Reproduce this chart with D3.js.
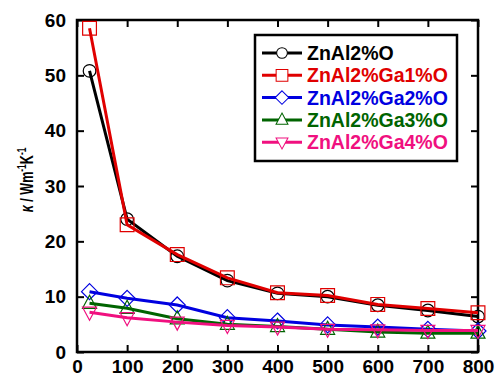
<!DOCTYPE html>
<html>
<head>
<meta charset="utf-8">
<script src="https://cdn.jsdelivr.net/npm/d3@7"></script>
<style>
  body { margin: 0; background: #fff; }
  text { font-family: "Liberation Sans", Arial, sans-serif; font-weight: bold; }
</style>
</head>
<body>
<div id="chart"></div>
<script>
const temps = [25, 100, 200, 300, 400, 500, 600, 700, 800];
const ga0 = [50.8, 24.0, 17.3, 12.9, 10.6, 10.0, 8.45, 7.5, 6.4];
const ga1 = [58.5, 23.0, 17.6, 13.4, 10.7, 10.2, 8.6, 7.85, 7.1];
const ga2 = [10.9, 9.7, 8.5, 6.2, 5.6, 4.9, 4.5, 4.1, 3.8];
const ga3 = [8.8, 7.9, 6.0, 5.0, 4.6, 4.1, 3.6, 3.4, 3.4];
const ga4 = [7.2, 6.2, 5.4, 4.8, 4.5, 4.1, 4.0, 3.9, 3.9];
const seriesNames = ["ZnAl2%O", "ZnAl2%Ga1%O", "ZnAl2%Ga2%O", "ZnAl2%Ga3%O", "ZnAl2%Ga4%O"];
const xTicks = [0, 100, 200, 300, 400, 500, 600, 700, 800];
const yTicks = [0, 10, 20, 30, 40, 50, 60];

const series = [
  { name: seriesNames[0], values: ga0, color: "#000000", symbol: "circle" },
  { name: seriesNames[1], values: ga1, color: "#e00000", symbol: "square" },
  { name: seriesNames[2], values: ga2, color: "#0000e0", symbol: "diamond" },
  { name: seriesNames[3], values: ga3, color: "#006400", symbol: "up" },
  { name: seriesNames[4], values: ga4, color: "#f0107f", symbol: "down" }
];

const W = 496, H = 376;
const margin = {top: 20, right: 18, bottom: 24, left: 77};
const width = W - margin.left - margin.right;
const height = H - margin.top - margin.bottom;

const svg = d3.select("#chart").append("svg")
  .attr("width", W)
  .attr("height", H);

const g = svg.append("g")
  .attr("transform", "translate(" + margin.left + "," + margin.top + ")");

const x = d3.scaleLinear().domain([0, 800]).range([0, width]);
const y = d3.scaleLinear().domain([0, 60]).range([height, 0]);

// axes with inward ticks, mirrored on top/right
const tick = 7;
g.append("g")
  .attr("transform", "translate(0," + height + ")")
  .call(d3.axisBottom(x).tickValues(xTicks).tickSize(-tick).tickPadding(8))
  .call(a => a.select(".domain").remove())
  .call(a => a.selectAll("text").attr("font-size", 19).attr("fill", "#000"));
g.append("g")
  .call(d3.axisTop(x).tickValues(xTicks).tickSize(-tick).tickFormat(""))
  .call(a => a.select(".domain").remove());
g.append("g")
  .call(d3.axisLeft(y).tickValues(yTicks).tickSize(-tick).tickPadding(11))
  .call(a => a.select(".domain").remove())
  .call(a => a.selectAll("text").attr("font-size", 19).attr("fill", "#000"));
g.append("g")
  .attr("transform", "translate(" + width + ",0)")
  .call(d3.axisRight(y).tickValues(yTicks).tickSize(-tick).tickFormat(""))
  .call(a => a.select(".domain").remove());
g.selectAll(".tick line").attr("stroke", "#000").attr("stroke-width", 2);

g.append("rect")
  .attr("width", width).attr("height", height)
  .attr("fill", "none").attr("stroke", "#000").attr("stroke-width", 2.5);

// y title (narrow, like the original)
svg.append("text")
  .attr("transform", "translate(33,180) rotate(-90) scale(0.7,1)")
  .attr("text-anchor", "middle")
  .attr("font-size", 18)
  .call(t => {
    t.append("tspan").attr("font-style", "italic").text("κ");
    t.append("tspan").text(" / Wm");
    t.append("tspan").attr("font-size", 12).attr("dy", -7).text("-1");
    t.append("tspan").attr("dy", 7).text("K");
    t.append("tspan").attr("font-size", 12).attr("dy", -7).text("-1");
  });

function symbolPath(s) {
  switch (s) {
    case "circle": return d3.symbol(d3.symbolCircle, 125)();
    case "square": return d3.symbol(d3.symbolSquare, 190)();
    case "diamond": return "M0,-8L8,0L0,8L-8,0Z";
    case "up": return "M0,-8L7,5L-7,5Z";
    case "down": return "M0,8L7,-5L-7,-5Z";
  }
}

const line = d3.line()
  .x((d, i) => x(temps[i]))
  .y(d => y(d));

series.forEach(s => {
  const sg = g.append("g");
  sg.append("path")
    .datum(s.values)
    .attr("d", line)
    .attr("fill", "none")
    .attr("stroke", s.color)
    .attr("stroke-width", 3);
  sg.selectAll("path.m")
    .data(s.values)
    .join("path")
    .attr("class", "m")
    .attr("d", symbolPath(s.symbol))
    .attr("transform", (d, i) => "translate(" + x(temps[i]) + "," + y(d) + ")")
    .attr("fill", "none")
    .attr("stroke", s.color)
    .attr("stroke-width", 1.2);
});

// legend
const lg = svg.append("g").attr("transform", "translate(255,35)");
lg.append("rect")
  .attr("width", 202).attr("height", 126)
  .attr("fill", "#fff").attr("stroke", "#000").attr("stroke-width", 2.5);
series.forEach((s, i) => {
  const cy = 18 + i * 22.3;
  lg.append("line")
    .attr("x1", 7).attr("x2", 47).attr("y1", cy).attr("y2", cy)
    .attr("stroke", s.color).attr("stroke-width", 3);
  lg.append("path")
    .attr("d", symbolPath(s.symbol))
    .attr("transform", "translate(27," + cy + ") scale(0.85)")
    .attr("fill", "#fff").attr("stroke", s.color).attr("stroke-width", 1.2);
  lg.append("text")
    .attr("x", 52).attr("y", cy + 7)
    .attr("font-size", 19.5)
    .attr("fill", s.color)
    .text(s.name);
});
</script>
</body>
</html>
